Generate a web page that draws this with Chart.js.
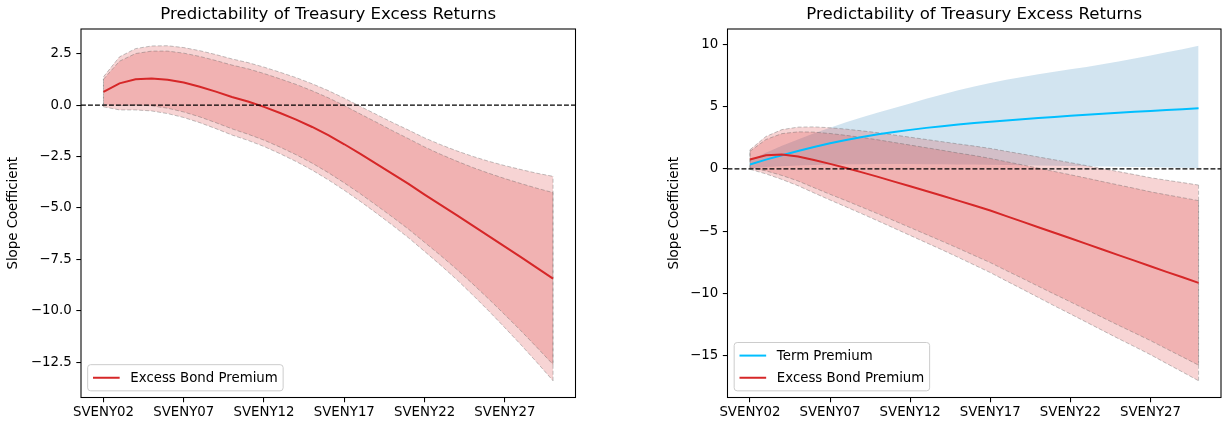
<!DOCTYPE html>
<html>
<head>
<meta charset="utf-8">
<title>Predictability of Treasury Excess Returns</title>
<script src="https://cdn.jsdelivr.net/npm/chart.js@4.4.1/dist/chart.umd.min.js"></script>
<style>
  html, body { margin: 0; padding: 0; background: #ffffff; }
  #wrap { position: relative; width: 1222px; height: 423px; overflow: hidden; }
  canvas { position: absolute; top: 0; }
  #left { left: 0; }
  #right { left: 611px; }
</style>
</head>
<body>
<div id="wrap">
  <canvas id="left" width="611" height="423" style="width:611px;height:423px"></canvas>
  <canvas id="right" width="611" height="423" style="width:611px;height:423px"></canvas>
</div>
<script>
// ---- categories and tick labels ----
const categories = ['SVENY02','SVENY03','SVENY04','SVENY05','SVENY06','SVENY07','SVENY08','SVENY09','SVENY10',
  'SVENY11','SVENY12','SVENY13','SVENY14','SVENY15','SVENY16','SVENY17','SVENY18','SVENY19','SVENY20',
  'SVENY21','SVENY22','SVENY23','SVENY24','SVENY25','SVENY26','SVENY27','SVENY28','SVENY29','SVENY30'];
const xTickLabels = ['SVENY02','SVENY07','SVENY12','SVENY17','SVENY22','SVENY27'];
const yTicksLeft = [2.5, 0, -2.5, -5, -7.5, -10, -12.5];
const yTicksRight = [10, 5, 0, -5, -10, -15];

const titleText = 'Predictability of Treasury Excess Returns';
const yAxisTitle = 'Slope Coefficient';
const tpName = 'Term Premium';
const ebpName = 'Excess Bond Premium';

// ---- left panel: excess bond premium alone ----
const ebpSingle = [0.65, 1.06, 1.26, 1.30, 1.24, 1.10, 0.90, 0.66, 0.40, 0.18, -0.08, -0.38, -0.70, -1.06, -1.46,
  -1.90, -2.37, -2.85, -3.34, -3.83, -4.35, -4.85, -5.35, -5.86, -6.37, -6.88, -7.39, -7.91, -8.43];
const ebpSingleHi95 = [1.38, 2.35, 2.75, 2.88, 2.89, 2.80, 2.65, 2.46, 2.25, 2.07, 1.85, 1.60, 1.34, 1.04, 0.71,
  0.34, -0.06, -0.45, -0.84, -1.21, -1.59, -1.92, -2.22, -2.49, -2.73, -2.94, -3.13, -3.31, -3.46];
const ebpSingleLo95 = [-0.08, -0.23, -0.23, -0.28, -0.41, -0.60, -0.85, -1.14, -1.45, -1.71, -2.01, -2.36, -2.74, -3.16, -3.63,
  -4.14, -4.68, -5.25, -5.84, -6.45, -7.11, -7.78, -8.48, -9.23, -10.01, -10.82, -11.65, -12.51, -13.40];
const ebpSingleHi90 = [1.26, 2.14, 2.51, 2.63, 2.63, 2.53, 2.37, 2.17, 1.95, 1.77, 1.54, 1.28, 1.01, 0.70, 0.36,
  -0.02, -0.43, -0.83, -1.24, -1.63, -2.03, -2.39, -2.72, -3.03, -3.31, -3.57, -3.81, -4.04, -4.25];
const ebpSingleLo90 = [0.04, -0.02, 0.01, -0.03, -0.15, -0.33, -0.57, -0.85, -1.15, -1.41, -1.70, -2.04, -2.41, -2.82, -3.28,
  -3.78, -4.31, -4.87, -5.44, -6.03, -6.67, -7.31, -7.98, -8.69, -9.43, -10.19, -10.97, -11.78, -12.61];

// ---- right panel: term premium and excess bond premium together ----
const termPremium = [0.35, 0.74, 1.10, 1.44, 1.76, 2.05, 2.32, 2.56, 2.77, 2.96, 3.13, 3.29, 3.43, 3.56, 3.68,
  3.79, 3.89, 3.99, 4.08, 4.17, 4.26, 4.34, 4.42, 4.50, 4.58, 4.65, 4.72, 4.79, 4.86];
const termPremiumHi = [0.70, 1.30, 1.85, 2.35, 2.85, 3.30, 3.75, 4.15, 4.52, 4.88, 5.25, 5.62, 5.97, 6.30, 6.62,
  6.90, 7.15, 7.38, 7.60, 7.80, 7.99, 8.18, 8.40, 8.62, 8.85, 9.10, 9.35, 9.60, 9.88];
const termPremiumLo = [0.05, 0.15, 0.22, 0.28, 0.32, 0.35, 0.37, 0.38, 0.39, 0.39, 0.39, 0.38, 0.37, 0.36, 0.35,
  0.33, 0.31, 0.29, 0.27, 0.25, 0.23, 0.21, 0.19, 0.17, 0.15, 0.13, 0.11, 0.09, 0.07];

const ebpJoint = [0.75, 1.10, 1.15, 1.00, 0.72, 0.40, 0.07, -0.28, -0.64, -1.02, -1.40, -1.78, -2.16, -2.55, -2.94,
  -3.34, -3.79, -4.23, -4.68, -5.13, -5.57, -6.02, -6.47, -6.92, -7.36, -7.81, -8.26, -8.70, -9.15];
const ebpJointHi95 = [1.53, 2.60, 3.15, 3.35, 3.37, 3.30, 3.19, 3.05, 2.90, 2.72, 2.54, 2.36, 2.18, 2.00, 1.83,
  1.64, 1.41, 1.19, 0.96, 0.73, 0.50, 0.26, 0.02, -0.22, -0.46, -0.71, -0.91, -1.10, -1.30];
const ebpJointLo95 = [-0.03, -0.40, -0.85, -1.35, -1.93, -2.50, -3.05, -3.61, -4.18, -4.76, -5.34, -5.92, -6.50, -7.10, -7.71,
  -8.32, -8.99, -9.65, -10.32, -10.99, -11.64, -12.30, -12.96, -13.62, -14.26, -14.91, -15.61, -16.30, -17.00];
const ebpJointHi90 = [1.41, 2.36, 2.83, 2.97, 2.95, 2.84, 2.69, 2.52, 2.33, 2.12, 1.91, 1.70, 1.49, 1.27, 1.07,
  0.84, 0.58, 0.32, 0.06, -0.21, -0.47, -0.74, -1.02, -1.29, -1.56, -1.84, -2.08, -2.31, -2.55];
const ebpJointLo90 = [0.09, -0.16, -0.53, -0.97, -1.51, -2.04, -2.55, -3.08, -3.61, -4.16, -4.71, -5.26, -5.81, -6.37, -6.95,
  -7.52, -8.16, -8.78, -9.42, -10.05, -10.67, -11.30, -11.92, -12.55, -13.16, -13.78, -14.44, -15.09, -15.75];

// ---- styling ----
const FONT = '"DejaVu Sans", "Liberation Sans", sans-serif';
const TICK_SIZE = 13.33;
const TITLE_SIZE = 16.6;
const RED = '#d62728';
const BLUE = '#00bfff';
const RED_FILL = 'rgba(214,39,40,0.2)';
const BLUE_FILL = 'rgba(31,119,180,0.2)';
const EDGE = 'rgba(95,95,95,0.38)';
const TRANSPARENT = 'rgba(0,0,0,0)';

Chart.defaults.font.family = FONT;
Chart.defaults.color = '#000';

function pts(arr) { return arr.map((v, i) => ({ x: i, y: v })); }

function minusSign(s) { return String(s).replace('-', '\u2212'); }

// Builds the datasets for a confidence band: lower edge then upper edge filled down to it.
function bandDatasets(lo, hi, fillColor, edgeColor, order, baseIndex) {
  const common = { borderWidth: 1, borderDash: [4, 2], borderColor: edgeColor, pointRadius: 0,
    pointHoverRadius: 0, tension: 0, order: order };
  return [
    Object.assign({ data: pts(lo), fill: false }, common),
    Object.assign({ data: pts(hi), fill: { target: baseIndex }, backgroundColor: fillColor }, common)
  ];
}

function lineDataset(label, arr, color, order) {
  return { label: label, data: pts(arr), borderColor: color, borderWidth: 2, pointRadius: 0,
    pointHoverRadius: 0, tension: 0, fill: false, order: order };
}

function roundRect(ctx, x, y, w, h, r) {
  ctx.beginPath();
  ctx.moveTo(x + r, y);
  ctx.lineTo(x + w - r, y);
  ctx.arcTo(x + w, y, x + w, y + r, r);
  ctx.lineTo(x + w, y + h - r);
  ctx.arcTo(x + w, y + h, x + w - r, y + h, r);
  ctx.lineTo(x + r, y + h);
  ctx.arcTo(x, y + h, x, y + h - r, r);
  ctx.lineTo(x, y + r);
  ctx.arcTo(x, y, x + r, y, r);
  ctx.closePath();
}

// Axes frame, title, zero reference line, band end edges and the legend.
function decorations(bands, legendItems) {
  return {
    id: 'decorations',
    beforeDatasetsDraw(chart) {
      const { ctx, chartArea: a, scales: { x, y } } = chart;
      ctx.save();
      ctx.beginPath();
      ctx.rect(a.left, a.top, a.right - a.left, a.bottom - a.top);
      ctx.clip();
      bands.forEach(b => {
        if (!b.edge) return;
        ctx.strokeStyle = b.edge;
        ctx.lineWidth = 1;
        ctx.setLineDash([4, 2]);
        [0, b.lo.length - 1].forEach(i => {
          const px = x.getPixelForValue(i);
          ctx.beginPath();
          ctx.moveTo(px, y.getPixelForValue(b.lo[i]));
          ctx.lineTo(px, y.getPixelForValue(b.hi[i]));
          ctx.stroke();
        });
      });
      ctx.restore();
    },
    afterDatasetsDraw(chart) {
      const { ctx, chartArea: a, scales: { y } } = chart;
      const y0 = y.getPixelForValue(0);
      ctx.save();
      ctx.strokeStyle = '#000';
      ctx.lineWidth = 1.33;
      ctx.setLineDash([4.9, 2.1]);
      ctx.beginPath();
      ctx.moveTo(a.left, y0);
      ctx.lineTo(a.right, y0);
      ctx.stroke();
      ctx.restore();
    },
    afterDraw(chart) {
      const { ctx, chartArea: a } = chart;
      ctx.save();
      // frame
      ctx.strokeStyle = '#000';
      ctx.lineWidth = 1.07;
      ctx.setLineDash([]);
      ctx.strokeRect(a.left, a.top, a.right - a.left, a.bottom - a.top);
      // title
      ctx.fillStyle = '#000';
      ctx.font = TITLE_SIZE + 'px ' + FONT;
      ctx.textAlign = 'center';
      ctx.textBaseline = 'alphabetic';
      ctx.fillText(titleText, (a.left + a.right) / 2, 19);
      // legend
      const fs = TICK_SIZE;
      ctx.font = fs + 'px ' + FONT;
      const pad = 0.4 * fs, hl = 2 * fs, htp = 0.8 * fs, ls = 0.5 * fs, rowH = 15.5, axPad = 0.5 * fs;
      const textW = Math.max(...legendItems.map(it => ctx.measureText(it.label).width));
      const w = pad + hl + htp + textW + pad;
      const h = 2 * pad + rowH * legendItems.length + ls * (legendItems.length - 1);
      const lx = a.left + axPad, ly = a.bottom - axPad - h;
      roundRect(ctx, lx, ly, w, h, 3);
      ctx.fillStyle = 'rgba(255,255,255,0.8)';
      ctx.fill();
      ctx.strokeStyle = '#cccccc';
      ctx.lineWidth = 1;
      ctx.stroke();
      legendItems.forEach((it, k) => {
        const cy = ly + pad + rowH / 2 + k * (rowH + ls);
        ctx.strokeStyle = it.color;
        ctx.lineWidth = 2;
        ctx.beginPath();
        ctx.moveTo(lx + pad, cy);
        ctx.lineTo(lx + pad + hl, cy);
        ctx.stroke();
        ctx.fillStyle = '#000';
        ctx.textAlign = 'left';
        ctx.textBaseline = 'middle';
        ctx.fillText(it.label, lx + pad + hl + htp, cy + 0.5);
      });
      ctx.restore();
    }
  };
}

function extent(arrays) {
  const all = [].concat(...arrays);
  const lo = Math.min(...all), hi = Math.max(...all);
  const m = (hi - lo) * 0.05;
  return [lo - m, hi + m];
}

function makeChart(canvasId, datasets, allSeries, yTicks, yFormat, axisWidth, padLeft, padRight, bands, legendItems) {
  const [ymin, ymax] = extent(allSeries);
  const n = categories.length - 1;
  const xm = n * 0.05;
  return new Chart(document.getElementById(canvasId), {
    type: 'line',
    data: { datasets: datasets },
    options: {
      responsive: false,
      animation: false,
      devicePixelRatio: 1,
      layout: { padding: { top: 29, left: padLeft, right: padRight, bottom: 0 } },
      plugins: {
        legend: { display: false },
        title: { display: false },
        tooltip: { enabled: false },
        filler: { drawTime: 'beforeDatasetsDraw' }
      },
      events: [],
      scales: {
        x: {
          type: 'linear',
          min: -xm,
          max: n + xm,
          bounds: 'data',
          afterBuildTicks: s => { s.ticks = xTickLabels.map(l => ({ value: categories.indexOf(l) })); },
          afterFit: s => { s.height = 423 - 397.5; },
          ticks: {
            autoSkip: false, maxRotation: 0, minRotation: 0, padding: 2,
            color: '#000', font: { size: TICK_SIZE, family: FONT },
            callback: v => categories[v]
          },
          grid: { display: true, drawOnChartArea: false, drawTicks: true, tickLength: 4.67,
            color: '#000', tickColor: '#000', lineWidth: 1.07, tickWidth: 1.07 },
          border: { display: false }
        },
        y: {
          type: 'linear',
          min: ymin,
          max: ymax,
          bounds: 'data',
          afterBuildTicks: s => { s.ticks = yTicks.map(v => ({ value: v })); },
          afterFit: s => { s.width = axisWidth; },
          ticks: {
            autoSkip: false, padding: 4.67,
            color: '#000', font: { size: TICK_SIZE, family: FONT },
            callback: v => minusSign(yFormat(v))
          },
          grid: { display: true, drawOnChartArea: false, drawTicks: true, tickLength: 4.67,
            color: '#000', tickColor: '#000', lineWidth: 1.07, tickWidth: 1.07 },
          border: { display: false },
          title: { display: true, text: yAxisTitle, color: '#000',
            font: { size: TICK_SIZE, family: FONT }, padding: { top: 6, bottom: 0 } }
        }
      }
    },
    plugins: [decorations(bands, legendItems)]
  });
}

// ---- left chart ----
const leftDatasets = [
  ...bandDatasets(ebpSingleLo95, ebpSingleHi95, RED_FILL, EDGE, 40, 0),
  ...bandDatasets(ebpSingleLo90, ebpSingleHi90, RED_FILL, EDGE, 30, 2),
  lineDataset(ebpName, ebpSingle, RED, 1)
];
makeChart('left', leftDatasets,
  [ebpSingle, ebpSingleHi95, ebpSingleLo95, ebpSingleHi90, ebpSingleLo90],
  yTicksLeft, v => v.toFixed(1), 81, 0, 611 - 575.5,
  [{ lo: ebpSingleLo95, hi: ebpSingleHi95, edge: EDGE }, { lo: ebpSingleLo90, hi: ebpSingleHi90, edge: EDGE }],
  [{ label: ebpName, color: RED }]);

// ---- right chart ----
const tpBand = bandDatasets(termPremiumLo, termPremiumHi, BLUE_FILL, TRANSPARENT, 50, 0);
const rightDatasets = [
  ...tpBand,
  ...bandDatasets(ebpJointLo95, ebpJointHi95, RED_FILL, EDGE, 40, 2),
  ...bandDatasets(ebpJointLo90, ebpJointHi90, RED_FILL, EDGE, 30, 4),
  lineDataset(tpName, termPremium, BLUE, 2),
  lineDataset(ebpName, ebpJoint, RED, 1)
];
makeChart('right', rightDatasets,
  [termPremium, termPremiumHi, termPremiumLo, ebpJoint, ebpJointHi95, ebpJointLo95, ebpJointHi90, ebpJointLo90],
  yTicksRight, v => String(Math.round(v)), 66.5, 50, 1,
  [{ lo: ebpJointLo95, hi: ebpJointHi95, edge: EDGE }, { lo: ebpJointLo90, hi: ebpJointHi90, edge: EDGE }],
  [{ label: tpName, color: BLUE }, { label: ebpName, color: RED }]);
</script>
</body>
</html>
